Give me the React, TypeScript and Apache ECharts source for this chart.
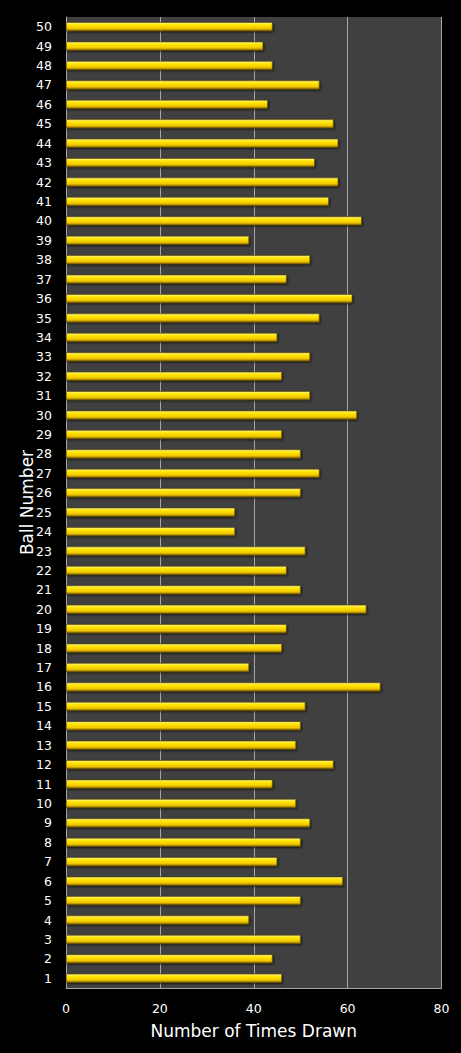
import React, { useEffect, useRef } from "react";
import * as echarts from "echarts";

const ballNumbers: string[] = Array.from({ length: 50 }, (_, i) => String(i + 1));
const timesDrawn: number[] = [
  46, 44, 50, 39, 50, 59, 45, 50, 52, 49,
  44, 57, 49, 50, 51, 67, 39, 46, 47, 64,
  50, 47, 51, 36, 36, 50, 54, 50, 46, 62,
  52, 46, 52, 45, 54, 61, 47, 52, 39, 63,
  56, 58, 53, 58, 57, 43, 54, 44, 42, 44,
];
const xTicks = { min: 0, max: 80, interval: 20 };

export default function App() {
  const ref = useRef<HTMLDivElement>(null);
  useEffect(() => {
    document.body.style.margin = "0";
    document.body.style.background = "#000";
    const chart = echarts.init(ref.current!, undefined, { renderer: "svg" });
    const font = "DejaVu Sans, Verdana, sans-serif";
    chart.setOption({
      animation: false,
      backgroundColor: "#000000",
      grid: {
        left: 66,
        right: 19.5,
        top: 17,
        bottom: 65,
        show: true,
        backgroundColor: "#404040",
        borderWidth: 0,
      },
      xAxis: {
        type: "value",
        min: xTicks.min,
        max: xTicks.max,
        interval: xTicks.interval,
        name: "Number of Times Drawn",
        nameLocation: "middle",
        nameGap: 34,
        nameMoveOverlap: false,
        nameTextStyle: { color: "#ffffff", fontSize: 17, fontFamily: font },
        axisLine: { show: true, lineStyle: { color: "#a6a6a6", width: 1 } },
        axisTick: { show: false },
        axisLabel: { color: "#ffffff", fontSize: 12.5, fontFamily: font, margin: 14 },
        splitLine: { show: true, lineStyle: { color: "#a6a6a6", width: 1 } },
      },
      yAxis: {
        type: "category",
        data: ballNumbers,
        name: "Ball Number",
        nameLocation: "middle",
        nameGap: 31,
        nameRotate: 90,
        nameMoveOverlap: false,
        nameTextStyle: { color: "#ffffff", fontSize: 17, fontFamily: font },
        axisLine: { show: true, lineStyle: { color: "#a6a6a6", width: 1 } },
        axisTick: { show: false },
        axisLabel: { color: "#ffffff", fontSize: 12.5, fontFamily: font, margin: 14, interval: 0 },
        splitLine: { show: false },
      },
      series: [
        {
          type: "bar",
          data: timesDrawn,
          barWidth: 9,
          itemStyle: {
            color: new echarts.graphic.LinearGradient(0, 0, 0, 1, [
              { offset: 0, color: "#fff38a" },
              { offset: 0.3, color: "#ffe600" },
              { offset: 0.7, color: "#f2c800" },
              { offset: 1, color: "#8c6a00" },
            ]),
            borderColor: "#5e4a00",
            borderWidth: 0.6,
            shadowColor: "rgba(0,0,0,0.7)",
            shadowBlur: 2,
            shadowOffsetX: 1,
            shadowOffsetY: 1,
          },
        },
      ],
    });
    return () => chart.dispose();
  }, []);
  return <div ref={ref} style={{ width: 461, height: 1053 }} />;
}
